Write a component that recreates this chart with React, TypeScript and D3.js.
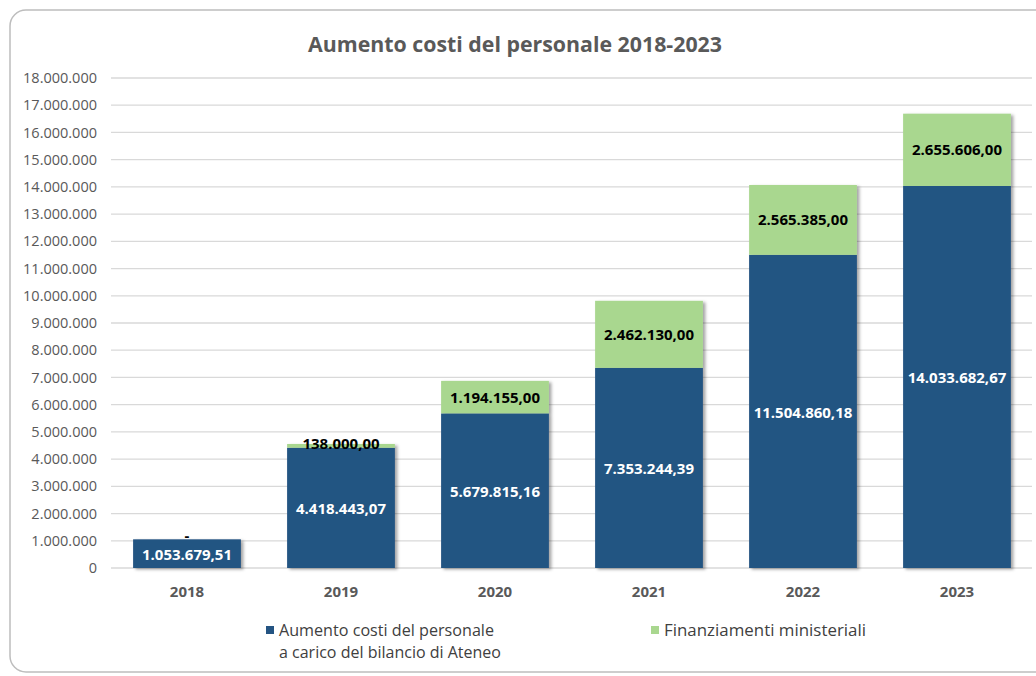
import React from "react";
import * as d3 from "d3";

const years = ["2018", "2019", "2020", "2021", "2022", "2023"];
const ateneo = [1053679.51, 4418443.07, 5679815.16, 7353244.39, 11504860.18, 14033682.67];
const ministeriali = [0, 138000, 1194155, 2462130, 2565385, 2655606];
const yTicks = [0, 1e6, 2e6, 3e6, 4e6, 5e6, 6e6, 7e6, 8e6, 9e6, 10e6, 11e6, 12e6, 13e6, 14e6, 15e6, 16e6, 17e6, 18e6];
const title = "Aumento costi del personale 2018-2023";
const legend1 = ["Aumento costi del personale", "a carico del bilancio di Ateneo"];
const legend2 = "Finanziamenti ministeriali";

const W = 1036, H = 676;
const BLUE = "#245482";
const GREEN = "#A9D78F";
const GRAY = "#595959";
const FONT = "'Open Sans', sans-serif";

const loc = d3.formatLocale({ decimal: ",", thousands: ".", grouping: [3], currency: ["", "€"] });
const fmtVal = (v: number) => (v === 0 ? "-" : loc.format(",.2f")(v));
const fmtTick = loc.format(",.0f");

export default function App() {
  const x = d3.scaleBand<string>().domain(years).range([110, 1034]).paddingInner(0.3).paddingOuter(0.15);
  const y = d3.scaleLinear().domain([0, 18e6]).range([568, 78]);
  const bw = x.bandwidth();

  return (
    <svg width={W} height={H} style={{ position: "absolute", left: 0, top: 0, background: "#fff" }} fontFamily={FONT}>
      <defs>
        <filter id="sh" x="-10%" y="-10%" width="130%" height="130%">
          <feDropShadow dx="2.5" dy="1.5" stdDeviation="1.5" floodColor="#000" floodOpacity="0.35" />
        </filter>
      </defs>
      <rect x={10} y={10} width={1040} height={662} rx={16} fill="#fff" stroke="#BDBDBD" strokeWidth={1.5} />
      <text x={515} y={52} textAnchor="middle" fontSize={21} fontWeight={700} fill={GRAY} textLength={414} lengthAdjust="spacingAndGlyphs">{title}</text>
      {yTicks.map((t) => (
        <g key={t}>
          <line x1={111} x2={1032} y1={y(t)} y2={y(t)} stroke="#D9D9D9" strokeWidth={1.3} />
          <text x={97} y={y(t)} dy="0.35em" textAnchor="end" fontSize={14.5} fill={GRAY}>{fmtTick(t)}</text>
        </g>
      ))}
      {years.map((yr, i) => {
        const x0 = x(yr)!;
        const b = ateneo[i];
        const g = ministeriali[i];
        const yb = y(b);
        const yg = y(b + g);
        return (
          <g key={yr}>
            <g filter="url(#sh)">
              <rect x={x0} y={yb} width={bw} height={y(0) - yb} fill={BLUE} />
              {g > 0 && <rect x={x0} y={yg} width={bw} height={yb - yg} fill={GREEN} />}
            </g>
            <text x={x0 + bw / 2} y={(yb + y(0)) / 2 + 1} dy="0.36em" textAnchor="middle" fontSize={15} fontWeight={700} fill="#fff">{fmtVal(b)}</text>
            <text x={x0 + bw / 2} y={(yg + yb) / 2 - (g === 0 ? 4 : yb - yg < 20 ? 2 : 0)} dy="0.36em" textAnchor="middle" fontSize={15} fontWeight={700} fill="#000">{fmtVal(g)}</text>
            <text x={x0 + bw / 2} y={592} dy="0.36em" textAnchor="middle" fontSize={15} fontWeight={700} fill={GRAY}>{yr}</text>
          </g>
        );
      })}
      <rect x={266} y={626} width={8} height={8} fill={BLUE} />
      <text x={279} y={636} fontSize={15.5} fill="#404040" textLength={215} lengthAdjust="spacingAndGlyphs">{legend1[0]}</text>
      <text x={279} y={658} fontSize={15.5} fill="#404040" textLength={222} lengthAdjust="spacingAndGlyphs">{legend1[1]}</text>
      <rect x={651} y={626} width={8} height={8} fill={GREEN} />
      <text x={664} y={636} fontSize={15.5} fill="#404040" textLength={202} lengthAdjust="spacingAndGlyphs">{legend2}</text>
    </svg>
  );
}
